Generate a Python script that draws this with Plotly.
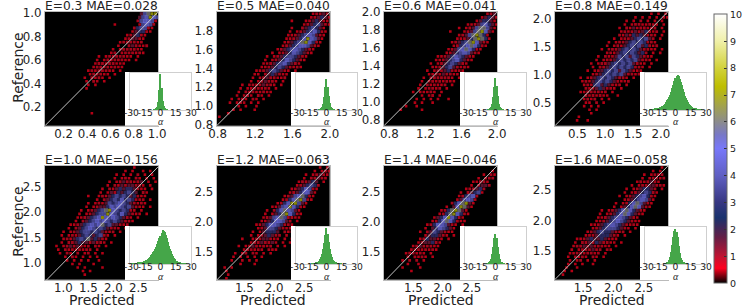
import numpy as np
import plotly.graph_objects as go

W, H = 747, 308

titles = ["E=0.3 MAE=0.028", "E=0.5 MAE=0.040", "E=0.6 MAE=0.041", "E=0.8 MAE=0.149",
          "E=1.0 MAE=0.156", "E=1.2 MAE=0.063", "E=1.4 MAE=0.046", "E=1.6 MAE=0.058"]

ranges_x = [[0.04, 1.01], [0.79, 2.0], [0.74, 2.0], [0.1, 2.13],
            [0.63, 2.9], [1.04, 2.93], [1.0, 2.93], [1.04, 2.9]]
ranges_y = [[0.04, 1.01], [0.79, 2.0], [0.74, 2.0], [0.1, 2.12],
            [0.66, 2.92], [1.04, 2.93], [1.03, 2.93], [1.03, 2.9]]
tick_vals = [[0.2, 0.4, 0.6, 0.8, 1.0], [0.8, 1.2, 1.6, 2.0], [0.8, 1.2, 1.6, 2.0], [0.5, 1.0, 1.5, 2.0],
             [1.0, 1.5, 2.0, 2.5], [1.5, 2.0, 2.5], [1.5, 2.0, 2.5], [1.5, 2.0, 2.5]]
y_tick_vals = [[0.2, 0.4, 0.6, 0.8, 1.0], [0.8, 1.0, 1.2, 1.4, 1.6, 1.8], [0.8, 1.0, 1.2, 1.4, 1.6, 1.8, 2.0], [0.5, 1.0, 1.5, 2.0],
               [1.0, 1.5, 2.0, 2.5], [1.5, 2.0, 2.5], [1.5, 2.0, 2.5], [1.5, 2.0, 2.5]]

# density levels: "." = empty, 1 = bright red ... 9 = pale yellow
level_values = [0, 0.55, 0.7, 1.5, 3, 4, 5, 6, 7.4, 9]
level_sizes = [0, 2.6, 2.8, 3.2, 3.6, 4, 4, 4, 3, 3]

density_03 = [
"........ ........ ........ ...35788",
"........ ........ ........ ..356865",
"........ ........ ........ ..256652",
"........ ........ ...1.... ..15652.",
"........ ........ ........ .245521.",
"........ ........ ........ 134421..",
"........ ........ .......1 23421...",
"........ ........ ......12 3321....",
"........ ........ .....122 2212....",
"........ ........ ....1..2 32112...",
"........ ........ ...1.122 2211....",
"........ ........ ..12.122 2121....",
"........ .......1 .1212221 1.1.....",
"........ ......1. 12122211 .1......",
"........ ......12 2122111. ........",
"........ .....122 121211.. ........",
"........ ....1212 2211.1.. ........",
"........ ....1212 11.1.... ........",
"........ ...1.212 1.1..... ........",
"........ ...1.21. 1....... ........",
"........ ....1.1. ........ ........",
"........ ...1.... ........ ........",
"........ ........ ........ ........",
"........ ........ ........ ........",
"........ ........ ........ ........",
"........ ........ ........ ........",
"........ ........ ........ ........",
"........ ........ ........ ........",
"........ .....1.. ........ ........",
]
density_05 = [
"........ ........ ........ ...12232",
"........ ........ ........ ..123432",
"........ ........ .....1.. .1234321",
"........ ........ ........ 12345321",
"........ ........ .....1.. 2345431.",
"........ ........ ....1.12 3456421.",
"........ ........ ....1123 4565321.",
"........ ........ ...11234 686531..",
"........ ........ ...12345 786421..",
"........ ........ ..123456 65321...",
"........ ........ .1234565 4321....",
"........ .......1 .1234654 321.....",
"........ ......1. 12345543 21......",
"........ .....1.1 23465432 1.......",
"........ .....112 34564321 ........",
"........ ....1123 45432121 ........",
"........ ...11234 54321.1. ........",
"........ ..11.234 3211.... ........",
"........ ..1.1232 2112.... ........",
"........ .1.12322 1.1..... ........",
".......1 .1212322 1.1..... ........",
"......1. 1122121. 1....... ........",
"......1. 21211211 ........ ........",
".....1.1 21.21.1. ........ ........",
"....1.12 1.21.1.. ........ ........",
"...1.121 .1.1.... ........ ........",
"......1. 1..1.... ........ ........",
"....1.1. ..1..... ........ ........",
"...1.... ........ ........ ........",
"1....... ........ ........ ........",
]
density_06 = [
"........ ........ ........ .....123",
"........ ........ ........ ...13432",
"........ ........ ........ ..134431",
"........ ........ .......1 12356431",
"........ ........ .....1.1 23577531",
"........ ........ ..1...12 3578631.",
"........ ........ .....123 578741..",
"........ ........ ....1123 478741..",
"........ ........ ...12345 786321..",
"........ ........ ...12456 76421...",
"........ ........ ..123567 6421....",
"........ ........ .1234565 321.....",
"........ .......1 12346543 21......",
"........ ......11 23456432 1.......",
"........ .....1.1 23454321 ........",
"........ .....112 34532121 ........",
"........ ....1.12 2342121. ........",
"........ ....1121 32211.1. ........",
"........ ...1.122 2221.1.. ........",
"........ ..1.1212 1211.... ........",
"........ ..1.2121 12.1.... ........",
"........ .1.12212 .1...... ........",
"........ 1.11121. 1....... ........",
"........ ..1.12.1 ........ ........",
"........ .1.1.1.1 ..1..... ........",
"........ 1.1..1.. ........ ........",
"......1. .1...... ........ ........",
"....1... ..1..... ........ ........",
]
density_08 = [
"........ ........ ........ ...1.1.1",
"........ ........ ......1. 1.1.1.12",
"........ ........ ....1.1. 2.1.1.1.",
"........ ........ ...1.122 11211.1.",
"........ ........ ..1.2131 22112.1.",
"........ ........ ..121232 34212.1.",
"........ ........ ..213243 43221.1.",
"........ ........ 1.122345 4532.1..",
"........ .......1 .1223454 54221...",
"........ ......1. 12134545 34212...",
"........ .....1.1 22345454 32211.1.",
"........ ......12 13454543 42.1.1..",
"........ ....1.21 23545354 3211....",
"........ ...1.122 34545453 221.1...",
"........ ..1.1223 45454532 11.1....",
"........ ..1.2234 54545422 1.1.....",
"........ .1.12345 45354321 1.......",
"........ ..123454 54532212 ........",
".......1 .1234545 43221.1. ........",
".......1 21345454 32112... ........",
"........ 12245343 212.1... ........",
"........ 21234322 1.1..... ........",
".......1 1222212. 1....... ........",
"........ 2121211. .1...... ........",
"........ 1212.1.1 ........ ........",
"........ 11.2.1.. ........ ........",
"........ 1.1.1... ........ ........",
"........ .1.1.... ........ ........",
"........ ..1..... ........ ........",
"......1. ........ ........ ........",
"......1. .1...... ........ ........",
]
density_10 = [
"........ ........ ........ .1......",
"........ ........ ......1. 1..1.1..",
"........ ........ ....1.1. 1.2.1.1.",
"........ ........ ...1.121 .21.1.1.",
"........ ........ ..1.1232 2123.1.1",
"........ ........ .1.21323 3221.1..",
"........ ........ 1.213434 43211.1.",
"........ .......1 .1324345 43.21...",
"........ ....1..1 21345454 34211...",
"........ ......1. 23454645 4212.1..",
"........ ....1.12 13545654 32121...",
"........ ...1.123 34656545 3211.1..",
"........ ..1.1234 57865454 21.1....",
"........ .1.12345 58654643 211.1...",
"........ .1123456 86565432 1.1.....",
"........ 1.234565 65454322 1.......",
".......1 12345656 74533212 ........",
"......1. 23456545 43221.1. ........",
".....1.1 23455454 3212.1.. ........",
"....1.12 13454345 21.1.... ........",
".....121 34547343 21...... ........",
"....1.22 34332322 1.1..... ........",
"...1.123 23212.21 .1...... ........",
"...1.212 12121.1. ........ ........",
"....1.21 .2.12.1. 1....... ........",
".....1.2 1.1.1.1. ........ ........",
"......1. 1.1.1..1 ........ ........",
".......1 .1...1.. ........ ........",
"........ .1.1.... 1....... ........",
"........ ..1.1... ........ ........",
"........ ...1.... ........ ........",
]
density_12 = [
"........ ........ ........ .....1.1",
"........ ........ ........ ...1.122",
"........ ........ ........ .1.12321",
"........ ........ ........ 1.22322.",
"........ ........ .......1 22343.1.",
"........ ........ ......12 34542...",
"........ ........ .....123 46521...",
"........ ........ ....1234 6631....",
"........ ........ ...12356 7421....",
"........ ........ ..124678 521.....",
"........ ........ .1246885 31......",
"........ .......1 13568642 1.......",
"........ ......1. 24676531 ........",
"........ .....1.1 34786421 ........",
"........ .....123 56752211 ........",
"........ ....1134 66532.1. ........",
"........ ...11346 654221.. ........",
"........ ...12355 43212.1. ........",
"........ ..1.1344 43.211.. ........",
"........ .1.12343 22.1.1.. ........",
".......1 ..122332 11.1.1.. ........",
"........ .1223223 1.1.1... ........",
"......1. 11321212 .1.1.... ........",
".......1 22121.21 1....... ........",
".....1.1 2.21.1.1 ........ ........",
"....1.1. 1.1.1... ........ ........",
"....1..1 .1.1.... ........ ........",
"......1. ..1..... ........ ........",
"..1.1... ........ ........ ........",
"..1..... ........ ........ ........",
"...1.... ........ ........ ........",
"..1..... ........ ........ ........",
]
density_14 = [
"........ ........ ........ ........",
"........ ........ ........ ......1.",
"........ ........ ........ ....1.21",
"........ ........ ........ ..1.122.",
"........ ........ ........ .11221..",
"........ ........ ........ 1.2332..",
"........ ........ .......1 22342...",
"........ ........ .....1.2 3451....",
"........ ........ .....124 562.....",
"........ ........ ....1356 52......",
"........ ........ ...24678 31......",
"........ ........ .1.36873 1.......",
"........ ........ 12478731 ........",
"........ .......1 24786421 ........",
"........ ......13 4686421. ........",
"........ .....124 6764211. ........",
"........ ....1246 65321.1. ........",
"........ ...1.346 5431.... ........",
"........ ..1.2354 3211.... ........",
"........ ...13443 21.1.... ........",
"........ ..124332 1.1..... ........",
"........ .1233421 ........ ........",
"........ 12322211 ........ ........",
".......1 2212121. ........ ........",
"......12 2121.1.. ........ ........",
"......1. 2121.1.. ........ ........",
".....1.2 .2.1.... ........ ........",
"......1. .1...... ........ ........",
".....1.. ..1..... ........ ........",
".......1 ........ ........ ........",
]
density_16 = [
"........ ........ ........ ......1.",
"........ ........ ........ ...1.1..",
"........ ........ ........ .1.1212.",
"........ ........ ........ 1.12212.",
"........ ........ .......1 212321..",
"........ ........ .....1.1 2233221.",
"........ ........ ....1.12 34432.1.",
"........ ........ ...1.123 45421...",
"........ ........ ..1.1234 56421...",
"........ ........ ...12345 6531....",
"........ ........ .1.12467 5321....",
"........ ........ 1.134676 321.....",
"........ .....1.1 23467643 21......",
"........ ....1.12 34676432 1.......",
"........ ....1123 45654321 ........",
"........ ...11234 56543211 ........",
"........ ..112345 65432121 ........",
"........ ..123455 54321.1. ........",
"........ .1234544 3212.1.. ........",
"........ 12234443 21.1.... ........",
"......11 23433432 11...... ........",
".....1.2 23243221 1.1..... ........",
".....122 32322211 .1...... ........",
"....1.12 22322.21 ........ ........",
"....1122 12212.1. ........ ........",
"...1.212 1.21.1.. ........ ........",
"....1.12 .1.1.... ........ ........",
"...1.1.1 ..1..... ........ ........",
"...1..1. ........ ........ ........",
"..1.1... ........ ........ ........",
"..1..... ........ ........ ........",
]

# histogram heights for bins centred on 0 (error alpha, one unit per bin)
hist_03 = [1, 2, 4, 9, 22, 55, 100, 62, 24, 10, 4, 2, 1]
hist_05 = [1, 2, 4, 9, 20, 42, 72, 100, 74, 45, 22, 10, 4, 2, 1]
hist_06 = [1, 2, 4, 8, 18, 40, 70, 100, 75, 44, 20, 9, 4, 2, 1]
hist_08 = [0, 0, 0, 0, 0, 1, 1, 1, 1, 2, 3, 3, 4, 5, 6, 8, 9, 10, 12, 15, 18, 22, 27, 32, 38, 44, 52, 62, 72, 82,
           90, 97, 100, 96, 88, 80, 70, 60, 50, 40, 34, 28, 22, 17, 13, 10, 8, 6, 5, 4, 3, 2, 2, 1, 1, 1, 0, 0, 0, 0, 0]
hist_10 = [1, 1, 1, 1, 1, 1, 2, 2, 3, 3, 4, 5, 6, 7, 8, 10, 11, 13, 15, 18, 22, 27, 31, 36, 40, 46, 52, 60, 68, 76,
           84, 92, 100, 97, 94, 86, 76, 64, 54, 46, 38, 30, 24, 18, 14, 10, 8, 6, 4, 3, 2, 2, 1, 1, 1, 1, 0, 0, 0, 0, 0]
hist_12 = [1, 1, 1, 2, 3, 4, 6, 9, 13, 20, 28, 40, 58, 80, 100, 82, 60, 42, 28, 18, 12, 8, 5, 3, 2, 2, 1, 1, 1]
hist_14 = [1, 2, 4, 9, 17, 32, 55, 85, 100, 86, 56, 32, 16, 8, 4, 2, 1]
hist_16 = [1, 2, 3, 6, 11, 20, 34, 55, 78, 94, 100, 92, 76, 52, 32, 18, 10, 5, 3, 2, 1]
hist_tops = [103, 118, 115, 105, 110, 102, 123, 105]

inset_ticks = [-30, -15, 0, 15, 30]
inset_tick_text = ["\u00a0-30", "-15", "0", "15", "30"]

densities = [density_03, density_05, density_06, density_08, density_10, density_12, density_14, density_16]
hists = [hist_03, hist_05, hist_06, hist_08, hist_10, hist_12, hist_14, hist_16]

# layout, in pixels of the picture
panel_left = [45, 216.7, 384, 555]
panel_w = 113.2
row_top = [12, 165.7]
panel_h = [113.7, 114.3]
inset_left = [130, 296, 465, 645]
inset_w = 61
inset_top = [73, 227]
inset_h = 37
FONT = "DejaVu Sans"
px = lambda x: x / W
py = lambda y: 1 - y / H

colorscale = [[0, "#000000"], [0.055, "#ff001e"], [0.1, "#be1432"], [0.17, "#641e46"], [0.243, "#19326e"],
              [0.3, "#373782"], [0.4, "#5f5fc3"], [0.5, "#7878fa"], [0.55, "#7878c8"], [0.6, "#8c8c8c"],
              [0.73, "#bebe00"], [0.8, "#d2d23c"], [0.9, "#f0f0aa"], [1, "#ffffff"]]

fig = go.Figure()
layout = dict(
    width=W, height=H, margin=dict(l=0, r=0, t=0, b=0, autoexpand=False), paper_bgcolor="white", plot_bgcolor="rgba(0,0,0,0)",
    showlegend=False, bargap=0, font=dict(family=FONT, color="#222222"), annotations=[],
    coloraxis=dict(cmin=0, cmax=10, colorscale=colorscale,
                   colorbar=dict(thickness=13, len=269, lenmode="pixels", x=px(713.7), xanchor="left",
                                 y=py(283.3), yanchor="bottom", tickvals=list(range(11)), ticks="inside",
                                 ticklen=3, tickcolor="#333333", outlinecolor="#666666", outlinewidth=1,
                                 tickfont=dict(size=9.5, family=FONT, color="#222222"), xpad=0, ypad=0)),
)


def add_axis(n, xdom, ydom, xopts, yopts):
    sx = "" if n == 1 else str(n)
    layout["xaxis" + sx] = dict(domain=xdom, anchor="y" + sx, **xopts)
    layout["yaxis" + sx] = dict(domain=ydom, anchor="x" + sx, **yopts)
    return "x" + sx, "y" + sx


def note(text, x, y, size, family=FONT, angle=0):
    layout["annotations"].append(dict(text=text, x=px(x), y=py(y), xref="paper", yref="paper", showarrow=False,
                                      xanchor="center", yanchor="middle", textangle=angle,
                                      font=dict(size=size, family=family, color="#222222")))


for i in range(8):
    col, row = i % 4, i // 4
    l, t = panel_left[col], row_top[row]
    r, b = l + panel_w, t + panel_h[row]
    common = dict(showgrid=False, zeroline=False, ticks="", showline=True, mirror=True, linecolor="#bbbbbb",
                  linewidth=1, tickfont=dict(size=11.8, family=FONT, color="#222222"), tickangle=0)
    xa, ya = add_axis(i + 1, [px(l), px(r)], [py(b), py(t)],
                      dict(range=ranges_x[i], tickmode="array", tickvals=tick_vals[i], ticklabelstandoff=-3,
                           ticktext=["%.1f" % v for v in tick_vals[i]], **common),
                      dict(range=ranges_y[i], tickmode="array", tickvals=y_tick_vals[i],
                           ticktext=["%.1f" % v for v in y_tick_vals[i]], **common))
    x0, x1 = ranges_x[i]
    y0, y1 = ranges_y[i]
    # black field
    fig.add_trace(go.Heatmap(z=[[0]], coloraxis="coloraxis", x0=(x0 + x1) / 2, y0=(y0 + y1) / 2,
                             dx=x1 - x0, dy=y1 - y0, hoverinfo="skip", xaxis=xa, yaxis=ya))
    rows = [s.replace(" ", "").ljust(32, ".")[:32] for s in densities[i]]
    dx, dy = (x1 - x0) / 32, (y1 - y0) / 32
    cells = []
    for ri, s in enumerate(rows):
        for ci, ch in enumerate(s):
            if ch != ".":
                # alternate rows sit half a cell over, so that the cells do not read as a lattice
                cells.append((int(ch), x0 + (ci + 0.25 + 0.5 * (ri % 2)) * dx, y1 - (ri + 0.5) * dy))
    cells.sort()
    fig.add_trace(go.Scatter(x=[c[1] for c in cells], y=[c[2] for c in cells], mode="markers",
                             marker=dict(symbol="square", line=dict(width=0), coloraxis="coloraxis",
                                         color=[level_values[c[0]] for c in cells],
                                         size=[level_sizes[c[0]] for c in cells]),
                             hoverinfo="skip", xaxis=xa, yaxis=ya))
    lo, hi = max(x0, y0), min(x1, y1)
    fig.add_trace(go.Scatter(x=[lo, hi], y=[lo, hi], mode="lines", line=dict(color="#d8d8d8", width=0.9),
                             hoverinfo="skip", xaxis=xa, yaxis=ya))
    note(titles[i], (l + r) / 2, t - 5.5, 12.2)
    if row == 1:
        note("Predicted", (l + r) / 2, 299.5, 14)
    if col == 0:
        note("Reference", 18, (t + b) / 2 - 1, 14, angle=-90)

for i in range(8):
    col, row = i % 4, i // 4
    il, it = inset_left[col], inset_top[row]
    # white backing panel
    xa, ya = add_axis(i + 9, [px(il - 5), px(il + inset_w + 0.7)], [py(row_top[row] + panel_h[row]), py(it - 1)],
                      dict(visible=False), dict(visible=False))
    fig.add_trace(go.Heatmap(z=[[0]], colorscale=[[0, "white"], [1, "white"]], showscale=False, hoverinfo="skip",
                             xaxis=xa, yaxis=ya))

for i in range(8):
    col, row = i % 4, i // 4
    il, it = inset_left[col], inset_top[row]
    common = dict(showgrid=False, zeroline=False, showline=True, mirror=True, linecolor="#cfcfcf", linewidth=1)
    xa, ya = add_axis(i + 17, [px(il), px(il + inset_w)], [py(it + inset_h), py(it)],
                      dict(range=[-30, 30], tickmode="array", tickvals=inset_ticks, ticklabelstandoff=-6,
                           ticktext=inset_tick_text, ticks="", tickangle=0,
                           tickfont=dict(size=9.2, family=FONT, color="#222222"), **common),
                      dict(range=[0, hist_tops[i]], showticklabels=False, ticks="", **common))
    h = hists[i]
    half = len(h) // 2
    fig.add_trace(go.Bar(x=np.arange(-half, half + 1), y=h, marker=dict(color="#45a649", line=dict(width=0)),
                         hoverinfo="skip", xaxis=xa, yaxis=ya))
    note("<i>α</i>", il + inset_w / 2, it + inset_h + 12, 10, family="Liberation Serif")

fig.update_layout(**layout)
fig.write_html("out.html", post_script="document.body.style.margin='0';", config=dict(displayModeBar=False))
